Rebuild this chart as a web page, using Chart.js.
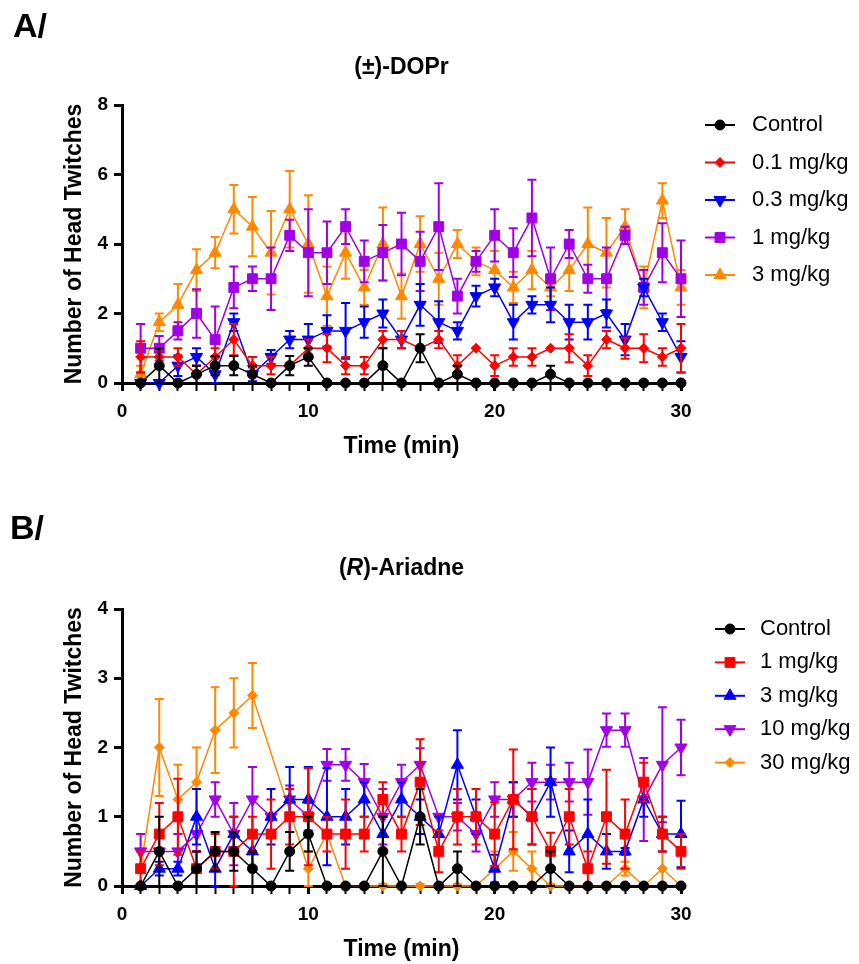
<!DOCTYPE html>
<html>
<head>
<meta charset="utf-8">
<script src="https://cdn.jsdelivr.net/npm/chart.js@4.4.0/dist/chart.umd.min.js"></script>
<style>
  body { margin: 0; background: #fff; width: 859px; height: 964px; position: relative; overflow: hidden;
         font-family: "Liberation Sans", Arial, sans-serif; color: #000; }
  canvas { position: absolute; left: 0; }
  .letter { position: absolute; font-weight: bold; font-size: 34px; line-height: 1; }
  .ptitle { position: absolute; left: 122px; width: 559px; text-align: center; font-weight: bold; font-size: 23px; line-height: 1; }
</style>
</head>
<body>
<canvas id="chartA" width="859" height="461" style="top:0px"></canvas>
<canvas id="chartB" width="859" height="484" style="top:480px"></canvas>
<div class="letter" style="left:13px; top:8px;">A/</div>
<div class="ptitle" style="top:55px;">(±)-DOPr</div>
<div class="letter" style="left:10px; top:510px;">B/</div>
<div class="ptitle" style="top:556px;">(<i>R</i>)-Ariadne</div>
<script>
// time points (min)
var times = [1,2,3,4,5,6,7,8,9,10,11,12,13,14,15,16,17,18,19,20,21,22,23,24,25,26,27,28,29,30];

// --- A: (±)-DOPr, mean and SEM per minute
var ctrlMean = [0,0.5,0,0.25,0.5,0.5,0.25,0,0.5,0.75,0,0,0,0.5,0,1,0,0.25,0,0,0,0,0.25,0,0,0,0,0,0,0];
var ctrlErr  = [0,0.5,0,0.25,0.28,0.28,0.25,0,0.28,0.25,0,0,0,0.5,0,0.4,0,0.25,0,0,0,0,0.25,0,0,0,0,0,0,0];

var dopr01Mean = [0.75,0.75,0.75,0.25,0.75,1.25,0.5,0.5,0.5,1,1,0.5,0.5,1.25,1.25,1,1.25,0.5,1,0.5,0.75,0.75,1,1,0.5,1.25,1,1,0.75,1];
var dopr01Err  = [0.45,0.25,0.25,0.25,0.25,0.45,0.25,0.25,0,0.25,0.4,0.25,0.25,0.25,0.25,0,0.25,0.3,0,0.3,0.25,0.25,0,0.4,0.3,0.25,0.3,0.4,0.25,0.7];

var dopr03Mean = [0,0,0.5,0.75,0.25,1.75,0.25,0.75,1.25,1.25,1.5,1.5,1.75,2,1.25,2.25,1.75,1.5,2.5,2.75,1.75,2.25,2.25,1.75,1.75,2,1.25,2.75,1.75,0.75];
var dopr03Err  = [0,0,0.3,0.25,0.25,0.25,0.2,0.2,0.25,0.45,0.45,0.8,0.45,0.4,0.25,0.6,0.6,0.25,0.3,0.25,0.5,0.25,0.5,0.5,0.5,0.4,0.45,0.25,0.25,0.45];

var dopr1Mean = [1,1,1.5,2,1.25,2.75,3,3,4.25,3.75,3.75,4.5,3.5,3.75,4,3.5,4.5,2.5,3.5,4.25,3.75,4.75,3,4,3,3,4.25,2.75,3.75,3];
var dopr1Err  = [0.7,0.35,0.25,0.7,0.95,0.6,0.35,0.9,0.45,1.25,0.9,0.5,0.6,0.8,0.9,0.85,1.25,0.5,0.3,0.75,0.7,1.1,0.9,0.4,0.4,0.9,0.25,0.5,0.85,1.1];

var dopr3Mean = [0.25,1.75,2.25,3.25,3.75,5,4.5,3.75,5,4,2.5,3.75,2.75,4,2.5,4,3,4,3.5,3.25,2.75,3.25,2.75,3.25,4,3.75,4.5,2.75,5.25,2.75];
var dopr3Err  = [0.25,0.25,0.6,0.6,0.45,0.7,0.85,1.2,1.1,1.4,0.85,0.75,0.5,1.05,0.65,0.8,0.75,0.4,0.4,0.55,0.45,0.55,0.25,0.6,1.05,1,0.5,0.6,0.5,0.5];

// --- B: (R)-Ariadne
var ari1Mean = [0.25,0.75,1,0.25,0.5,0.5,0.75,0.75,1,1,0.75,0.75,0.75,1.25,0.75,1.5,0.5,1,1,0.75,1.25,1,0.5,1,0.25,1,0.75,1.5,0.75,0.5];
var ari1Err  = [0.25,0.45,0.55,0.25,0.25,0.5,0.25,0.5,0.4,0.7,0.25,0.5,0.25,0.25,0.25,0.62,0.3,0.4,0.4,0.46,0.72,0.4,0.27,0.4,0.25,0.68,0.5,0.28,0.25,0.25];

var ari3Mean = [0,0.25,0.25,1,0.25,0.75,0.5,1,1.25,1.25,1,1,1.25,0.75,1.25,1,0.75,1.75,1,0.25,1.25,1,1.5,0.5,0.75,0.5,0.5,1.25,0.75,0.75];
var ari3Err  = [0,0.1,0.1,0.4,0.25,0.25,0.25,0.4,0.47,0.47,0.7,0.4,0.25,0.25,0.25,0.25,0.25,0.5,0.25,0.2,0.25,0.4,0.5,0.3,0.5,0.25,0.05,0.25,0.25,0.48];

var ari10Mean = [0.5,0.5,0.5,0.75,1.25,0.75,1.25,1,1.25,1,1.75,1.75,1.5,1,1.5,1.75,1,1,0.75,1.25,1.25,1.5,1.5,1.5,1.5,2.25,2.25,1.25,1.75,2];
var ari10Err  = [0.25,0,0.25,0.25,0.25,0.45,0.47,0,0.2,0.2,0.23,0.23,0.26,0.4,0.25,0.24,0,0.2,0.25,0.25,0.25,0.28,0.25,0.28,0.47,0.24,0.24,0.6,0.83,0.4];

var ari30Mean = [0.25,2,1.25,1.5,2.25,2.5,2.75,null,null,0.25,0.75,0,0,0,0,0,0,0,0,0.25,0.5,0.25,0,0,0,0,0.25,0,0.25,0];
var ari30Err  = [0,0.7,0.5,0.5,0.62,0.5,0.47,0,0,0.25,0,0,0,0.03,0,0.03,0,0.03,0,0.25,0.28,0.25,0.03,0,0,0,0.1,0,0.25,0];

var BLACK = '#000000', RED = '#ff0000', BLUE = '#0000ff', PURPLE = '#a100e6', ORANGE = '#ff8800';

Chart.defaults.font.family = '"Liberation Sans", Arial, sans-serif';
Chart.defaults.color = '#000';

// draws mean +/- SEM bars before each dataset's own line and markers
var errorBars = {
  id: 'errorBars',
  beforeDatasetDraw: function(chart, args) {
    var ds = chart.data.datasets[args.index];
    if (!ds.errors) return;
    var ys = chart.scales.y;
    var ctx = chart.ctx;
    var cap = 4.5;
    ctx.save();
    ctx.strokeStyle = ds.borderColor;
    ctx.lineWidth = 2;
    args.meta.data.forEach(function(pt, i) {
      var v = ds.data[i].y, e = ds.errors[i];
      if (v === null || !e) return;
      var yt = ys.getPixelForValue(v + e);
      var yb = ys.getPixelForValue(Math.max(0, v - e));
      ctx.beginPath();
      ctx.moveTo(pt.x, yt); ctx.lineTo(pt.x, yb);
      ctx.moveTo(pt.x - cap, yt); ctx.lineTo(pt.x + cap, yt);
      ctx.moveTo(pt.x - cap, yb); ctx.lineTo(pt.x + cap, yb);
      ctx.stroke();
    });
    ctx.restore();
  }
};

// legend to the right: short line with the marker, then the label
var sideLegend = {
  id: 'sideLegend',
  afterDraw: function(chart, args, opts) {
    var ctx = chart.ctx;
    ctx.save();
    ctx.font = '22px "Liberation Sans", Arial, sans-serif';
    ctx.textBaseline = 'middle';
    chart.data.datasets.forEach(function(ds, i) {
      var y = opts.top + i * opts.spacing;
      var mx = opts.lineStart + opts.lineLength / 2;
      ctx.strokeStyle = ds.borderColor;
      ctx.lineWidth = 2;
      ctx.beginPath();
      ctx.moveTo(opts.lineStart, y);
      ctx.lineTo(opts.lineStart + opts.lineLength, y);
      ctx.stroke();
      ctx.fillStyle = ds.borderColor;
      ctx.lineWidth = 1;
      Chart.helpers.drawPoint(ctx, {
        pointStyle: ds.pointStyle, rotation: ds.pointRotation || 0,
        radius: ds.pointRadius, borderWidth: 1
      }, mx, y);
      ctx.fillStyle = '#000';
      ctx.fillText(ds.label, opts.textX, y);
    });
    ctx.restore();
  }
};

function series(label, mean, err, color, style, radius, rotation) {
  return {
    label: label,
    data: times.map(function(t, i) { return { x: t, y: mean[i] }; }),
    errors: err,
    borderColor: color,
    backgroundColor: color,
    pointBackgroundColor: color,
    pointBorderColor: color,
    pointStyle: style,
    pointRadius: radius,
    pointRotation: rotation || 0,
    pointBorderWidth: 1,
    borderWidth: 1.5,
    tension: 0,
    spanGaps: true,
    clip: false
  };
}

function makeChart(id, datasets, yMax, yStep, plotTop, legendOpts) {
  return new Chart(document.getElementById(id), {
    type: 'line',
    data: { datasets: datasets },
    options: {
      responsive: false,
      animation: false,
      events: [],
      layout: { padding: { left: 0, right: 178, top: plotTop, bottom: 0 } },
      plugins: {
        legend: { display: false },
        tooltip: { enabled: false },
        sideLegend: legendOpts
      },
      scales: {
        x: {
          type: 'linear', min: 0, max: 30,
          afterFit: function(s) { s.height = 78; },
          border: { display: true, color: '#000', width: 3 },
          grid: {
            drawOnChartArea: false, drawTicks: true, tickLength: 8, tickColor: '#000',
            tickWidth: function(c) { return c.tick && c.tick.value % 10 === 0 ? 3 : 2; }
          },
          ticks: {
            stepSize: 1, autoSkip: false, maxRotation: 0, padding: 9, color: '#000',
            font: { size: 19, weight: 'bold' },
            callback: function(v) { return v % 10 === 0 ? v : ''; }
          },
          title: {
            display: true, text: 'Time (min)', color: '#000',
            font: { size: 23, weight: 'bold' }, padding: { top: 0, bottom: 1 }
          }
        },
        y: {
          min: 0, max: yMax,
          afterFit: function(s) { s.width = 122; },
          border: { display: true, color: '#000', width: 3 },
          grid: { drawOnChartArea: false, tickLength: 8, tickColor: '#000', tickWidth: 3 },
          ticks: { stepSize: yStep, padding: 6, color: '#000', font: { size: 19, weight: 'bold' } },
          title: {
            display: true, text: 'Number of Head Twitches', color: '#000',
            font: { size: 23, weight: 'bold' }, padding: { top: 61, bottom: 0 }
          }
        }
      }
    },
    plugins: [errorBars, sideLegend]
  });
}

var chartA = makeChart('chartA', [
  series('Control', ctrlMean, ctrlErr, BLACK, 'circle', 5),
  series('0.1 mg/kg', dopr01Mean, dopr01Err, RED, 'rectRot', 5),
  series('0.3 mg/kg', dopr03Mean, dopr03Err, BLUE, 'triangle', 7, 180),
  series('1 mg/kg', dopr1Mean, dopr1Err, PURPLE, 'rect', 7),
  series('3 mg/kg', dopr3Mean, dopr3Err, ORANGE, 'triangle', 7)
], 8, 2, 105, { top: 125, spacing: 37.5, lineStart: 705, lineLength: 30, textX: 752 });

var chartB = makeChart('chartB', [
  series('Control', ctrlMean, ctrlErr, BLACK, 'circle', 5),
  series('1 mg/kg', ari1Mean, ari1Err, RED, 'rect', 7),
  series('3 mg/kg', ari3Mean, ari3Err, BLUE, 'triangle', 7),
  series('10 mg/kg', ari10Mean, ari10Err, PURPLE, 'triangle', 7, 180),
  series('30 mg/kg', ari30Mean, ari30Err, ORANGE, 'rectRot', 5)
], 4, 1, 129, { top: 149, spacing: 33.4, lineStart: 715, lineLength: 30, textX: 760 });
</script>
</body>
</html>
